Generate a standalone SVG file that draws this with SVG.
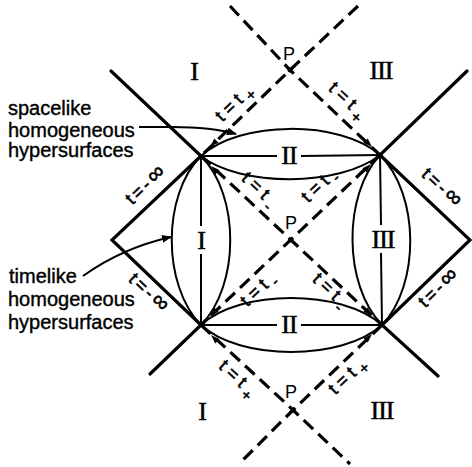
<svg xmlns="http://www.w3.org/2000/svg" width="472" height="467" viewBox="0 0 472 467">
<style>
.solid{fill:none;stroke:#000;stroke-width:3.2;stroke-linecap:round;stroke-linejoin:miter}
.thin{fill:none;stroke:#000;stroke-width:2}
.dash{fill:none;stroke:#000;stroke-width:3.2;stroke-dasharray:13 7}
.lbl{font-family:"Liberation Sans",Arial,sans-serif;font-size:20px;fill:#000;stroke:#000;stroke-width:0.4}
.tl{font-family:"Liberation Sans",Arial,sans-serif;font-size:18px;letter-spacing:5px;fill:#000;stroke:#000;stroke-width:0.6}
.ti{font-family:"Liberation Sans",Arial,sans-serif;font-size:18px;letter-spacing:3px;fill:#000;stroke:#000;stroke-width:0.6}
.sub{font-size:15px}
.inf{font-size:23px;letter-spacing:0}
.rn{font-family:"Liberation Serif","Times New Roman",serif;font-size:26px;letter-spacing:-1px;text-anchor:middle;fill:#000;stroke:#000;stroke-width:0.5}
.pp{font-family:"Liberation Sans",Arial,sans-serif;font-size:18px;text-anchor:middle;fill:#000}
</style>
<defs>
<marker id="arr" markerWidth="10" markerHeight="8" refX="9" refY="4" orient="auto" markerUnits="userSpaceOnUse">
<path d="M0,0 L10,4 L0,8 Z" fill="#000"/>
</marker>
<path id="ah" d="M0,0 L-9,-3 L-9,3 Z" fill="#000"/>
</defs>

<g id="connectors">
<path class="solid" d="M111,71 L201,156 L112,240 L201,325 L150,374"/>
<path class="solid" d="M467,71 L380,155 L470,240 L382,325 L438,376"/>
<path class="dash" d="M230,6 L290,70 L380,155"/>
<path class="dash" d="M358,6 L290,70 L201,156"/>
<path class="dash" d="M201,156 L382,325"/>
<path class="dash" d="M380,155 L201,325"/>
<path class="dash" d="M201,325 L293,410 L350,464"/>
<path class="dash" d="M382,325 L293,410 L239,464"/>
<path class="thin" d="M201,156 L277,156 M301,156 L380,155"/>
<path class="thin" d="M201,325 L277,325 M301,325 L382,325"/>
<path class="thin" d="M201,156 L201,226 M201,254 L201,325"/>
<path class="thin" d="M380,155 L381,225 M381,253 L382,325"/>
<path class="thin" d="M201,156 C240,120 340,120 380,155"/>
<path class="thin" d="M201,156 C240,187 340,187 380,155"/>
<path class="thin" d="M201,325 C240,289 342,289 382,325"/>
<path class="thin" d="M201,325 C240,361 342,361 382,325"/>
<path class="thin" d="M201,156 C162,195 162,285 201,325"/>
<path class="thin" d="M201,156 C240,195 240,285 201,325"/>
<path class="thin" d="M380,155 C343,195 343,285 382,325"/>
<path class="thin" d="M380,155 C420,195 420,285 382,325"/>
<path class="thin" d="M139,127 L172,127 Q212,127 236,134" marker-end="url(#arr)"/>
<path class="thin" d="M83,276 Q122,248 171,237" marker-end="url(#arr)"/>
<use href="#ah" transform="translate(210,147) rotate(135)"/>
<use href="#ah" transform="translate(211,166) rotate(-135)"/>
<use href="#ah" transform="translate(372,147) rotate(45)"/>
<use href="#ah" transform="translate(371,164) rotate(-45)"/>
<use href="#ah" transform="translate(210,316) rotate(135)"/>
<use href="#ah" transform="translate(211,335) rotate(-135)"/>
<use href="#ah" transform="translate(372,316) rotate(45)"/>
<use href="#ah" transform="translate(372,334) rotate(-45)"/>
<circle cx="290" cy="70" r="2.5" fill="#000"/>
<circle cx="291" cy="240" r="2.5" fill="#000"/>
<circle cx="293" cy="410" r="2.5" fill="#000"/>
</g>

<g id="region-labels">
<text class="rn" x="194" y="80">I</text>
<text class="rn" x="381" y="79">III</text>
<text class="rn" x="289" y="164">II</text>
<text class="rn" x="201" y="249">I</text>
<text class="rn" x="383" y="248">III</text>
<text class="rn" x="289" y="333">II</text>
<text class="rn" x="202" y="420">I</text>
<text class="rn" x="382" y="419">III</text>
<text class="pp" x="289" y="60">P</text>
<text class="pp" x="291" y="229">P</text>
<text class="pp" x="291" y="398">P</text>
</g>

<g id="t-labels">
<text class="tl" transform="translate(222.2,122.5) rotate(-44)">t=t<tspan class="sub" dy="5">+</tspan></text>
<text class="tl" transform="translate(327.6,89.5) rotate(43)">t=t<tspan class="sub" dy="6">+</tspan></text>
<text class="tl" transform="translate(240.6,179.5) rotate(43.2)">t=t<tspan class="sub" dy="6">-</tspan></text>
<text class="tl" transform="translate(308.2,203.5) rotate(-43.5)">t=t<tspan class="sub" dy="5">-</tspan></text>
<text class="tl" transform="translate(247.2,307.5) rotate(-43.5)">t=t<tspan class="sub" dy="5">-</tspan></text>
<text class="tl" transform="translate(311.6,280.5) rotate(43.2)">t=t<tspan class="sub" dy="6">-</tspan></text>
<text class="tl" transform="translate(217.7,367.6) rotate(42.7)">t=t<tspan class="sub" dy="6">+</tspan></text>
<text class="tl" transform="translate(335.2,395.5) rotate(-43.4)">t=t<tspan class="sub" dy="5">+</tspan></text>
<text class="ti" transform="translate(132.2,205.5) rotate(-43.3)">t=-<tspan class="inf">∞</tspan></text>
<text class="ti" transform="translate(127.6,280.5) rotate(43.7)">t=-<tspan class="inf">∞</tspan></text>
<text class="ti" transform="translate(420.6,175.5) rotate(43.4)">t=-<tspan class="inf">∞</tspan></text>
<text class="ti" transform="translate(425.2,308.5) rotate(-43.6)">t=-<tspan class="inf">∞</tspan></text>
</g>

<g id="spacelike-note">
<text class="lbl" x="8" y="115">spacelike</text>
<text class="lbl" x="8" y="137">homogeneous</text>
<text class="lbl" x="8" y="157">hypersurfaces</text>
</g>
<g id="timelike-note">
<text class="lbl" x="9" y="283">timelike</text>
<text class="lbl" x="8" y="306">homogeneous</text>
<text class="lbl" x="8" y="329">hypersurfaces</text>
</g>
</svg>
